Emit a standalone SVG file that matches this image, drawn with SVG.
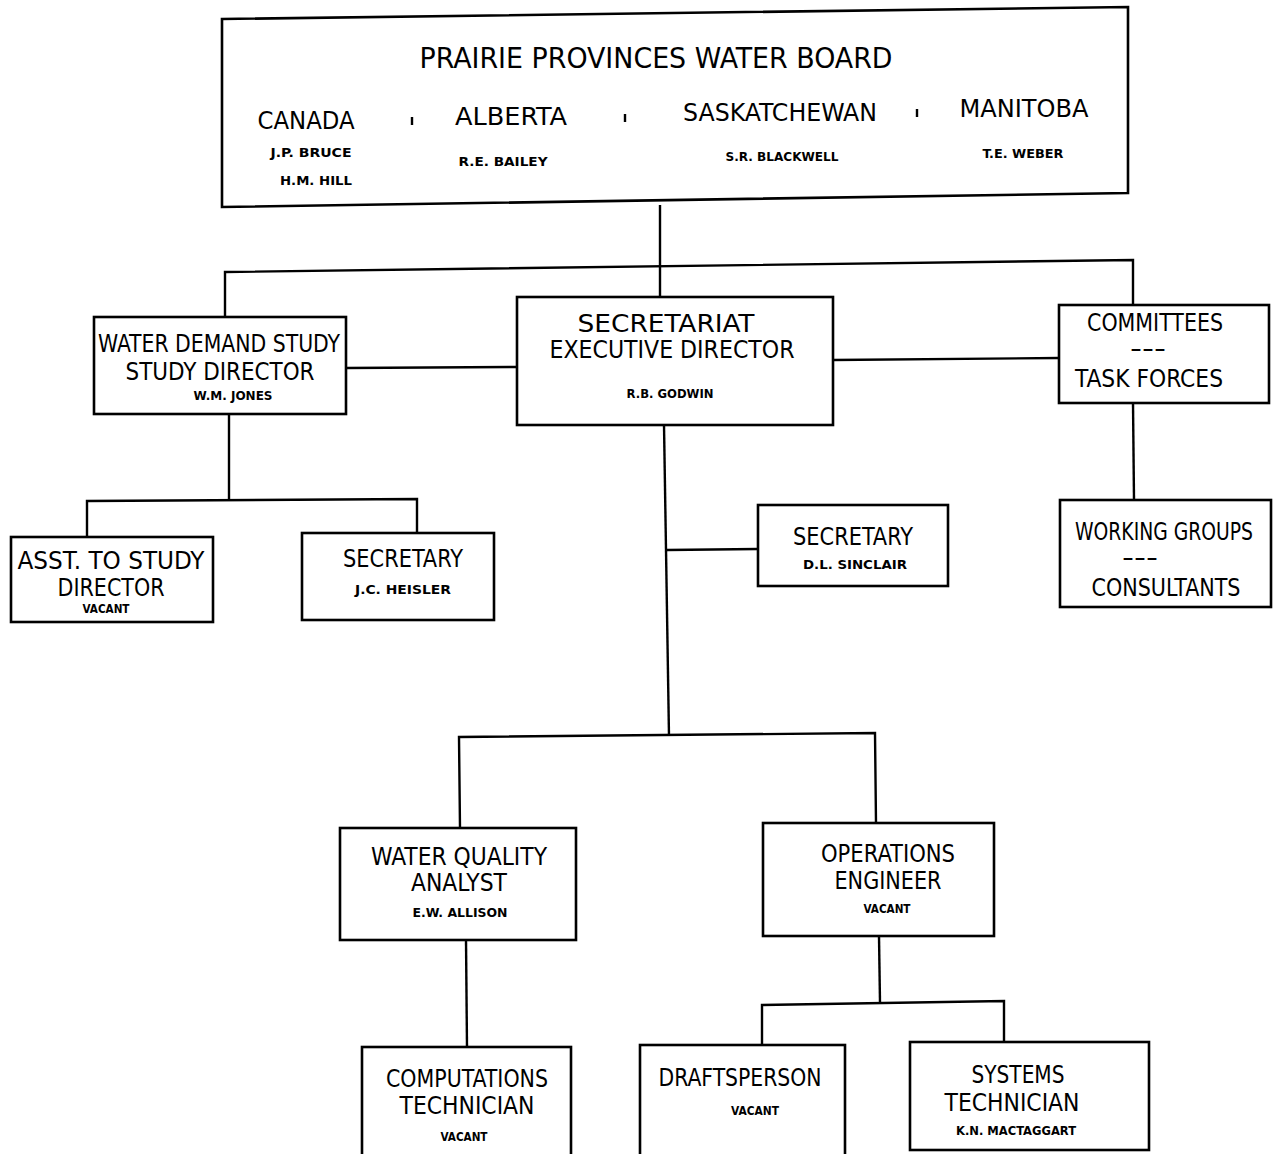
<svg xmlns="http://www.w3.org/2000/svg" width="1277" height="1154" viewBox="0 0 1277 1154">
<style>
.bx{fill:#fff;stroke:#000;stroke-width:2.6}
.ln{fill:none;stroke:#000;stroke-width:2.4}
text{font-family:"DejaVu Sans Condensed","Liberation Sans Narrow","DejaVu Sans",sans-serif;fill:#000;text-anchor:middle}
.t{font-size:24px}
.h{font-size:29px}
.s{font-size:13px;font-weight:bold}
</style>
<rect width="1277" height="1154" fill="#fff"/>
<g id="connectors">
<polyline class="ln" points="660,205 660,297"/>
<polyline class="ln" points="225,318 225,272 1133,260 1133,305"/>
<line class="ln" x1="346" y1="368" x2="517" y2="367"/>
<line class="ln" x1="833" y1="360" x2="1059" y2="358"/>
<line class="ln" x1="1133" y1="403" x2="1134" y2="500"/>
<polyline class="ln" points="229,414 229,500"/>
<polyline class="ln" points="87,537 87,501 417,499 417,533"/>
<polyline class="ln" points="664,425 669,736"/>
<line class="ln" x1="667" y1="550" x2="758" y2="549"/>
<polyline class="ln" points="460,828 459,737 875,733 876,823"/>
<line class="ln" x1="466" y1="940" x2="467" y2="1047"/>
<line class="ln" x1="879" y1="936" x2="880" y2="1003"/>
<polyline class="ln" points="762,1045 762,1005 1004,1001 1004,1042"/>
</g>
<g id="board">
<polygon class="bx" points="222,19 1128,7 1128,193 222,207"/>
<text class="h" x="656" y="68" textLength="473" lengthAdjust="spacingAndGlyphs">PRAIRIE PROVINCES WATER BOARD</text>
<text class="t" x="306" y="129" textLength="97" lengthAdjust="spacingAndGlyphs">CANADA</text>
<text class="t" x="511" y="125" textLength="112" lengthAdjust="spacingAndGlyphs">ALBERTA</text>
<text class="t" x="780" y="121" textLength="194" lengthAdjust="spacingAndGlyphs">SASKATCHEWAN</text>
<text class="t" x="1024" y="117" textLength="129" lengthAdjust="spacingAndGlyphs">MANITOBA</text>
<line class="ln" x1="412" y1="117" x2="412" y2="125"/>
<line class="ln" x1="625" y1="114" x2="625" y2="122"/>
<line class="ln" x1="917" y1="109" x2="917" y2="117"/>
<text class="s" x="311" y="157" textLength="81" lengthAdjust="spacingAndGlyphs">J.P. BRUCE</text>
<text class="s" x="316" y="185" textLength="72" lengthAdjust="spacingAndGlyphs">H.M. HILL</text>
<text class="s" x="503" y="166" textLength="89" lengthAdjust="spacingAndGlyphs">R.E. BAILEY</text>
<text class="s" x="782" y="161" textLength="113" lengthAdjust="spacingAndGlyphs">S.R. BLACKWELL</text>
<text class="s" x="1023" y="158" textLength="81" lengthAdjust="spacingAndGlyphs">T.E. WEBER</text>
</g>
<g id="water-demand">
<rect class="bx" x="94" y="317" width="252" height="97"/>
<text class="t" x="219" y="352" textLength="242" lengthAdjust="spacingAndGlyphs">WATER DEMAND STUDY</text>
<text class="t" x="220" y="380" textLength="189" lengthAdjust="spacingAndGlyphs">STUDY DIRECTOR</text>
<text class="s" x="233" y="400" textLength="79" lengthAdjust="spacingAndGlyphs">W.M. JONES</text>
</g>
<g id="secretariat">
<rect class="bx" x="517" y="297" width="316" height="128"/>
<text class="t" x="666" y="332" textLength="177" lengthAdjust="spacingAndGlyphs">SECRETARIAT</text>
<text class="t" x="672" y="358" textLength="245" lengthAdjust="spacingAndGlyphs">EXECUTIVE DIRECTOR</text>
<text class="s" x="670" y="398" textLength="87" lengthAdjust="spacingAndGlyphs">R.B. GODWIN</text>
</g>
<g id="committees">
<rect class="bx" x="1059" y="305" width="210" height="98"/>
<text class="t" x="1155" y="331" textLength="136" lengthAdjust="spacingAndGlyphs">COMMITTEES</text>
<text class="t" x="1148" y="357" textLength="36" lengthAdjust="spacingAndGlyphs">---</text>
<text class="t" x="1149" y="387" textLength="148" lengthAdjust="spacingAndGlyphs">TASK FORCES</text>
</g>
<g id="working-groups">
<rect class="bx" x="1060" y="500" width="211" height="107"/>
<text class="t" x="1164" y="540" textLength="178" lengthAdjust="spacingAndGlyphs">WORKING GROUPS</text>
<text class="t" x="1140" y="566" textLength="36" lengthAdjust="spacingAndGlyphs">---</text>
<text class="t" x="1166" y="596" textLength="149" lengthAdjust="spacingAndGlyphs">CONSULTANTS</text>
</g>
<g id="asst">
<rect class="bx" x="11" y="537" width="202" height="85"/>
<text class="t" x="111" y="569" textLength="187" lengthAdjust="spacingAndGlyphs">ASST. TO STUDY</text>
<text class="t" x="111" y="596" textLength="107" lengthAdjust="spacingAndGlyphs">DIRECTOR</text>
<text class="s" x="106" y="613" textLength="47" lengthAdjust="spacingAndGlyphs">VACANT</text>
</g>
<g id="secretary-heisler">
<rect class="bx" x="302" y="533" width="192" height="87"/>
<text class="t" x="403" y="567" textLength="120" lengthAdjust="spacingAndGlyphs">SECRETARY</text>
<text class="s" x="403" y="594" textLength="96" lengthAdjust="spacingAndGlyphs">J.C. HEISLER</text>
</g>
<g id="secretary-sinclair">
<rect class="bx" x="758" y="505" width="190" height="81"/>
<text class="t" x="853" y="545" textLength="120" lengthAdjust="spacingAndGlyphs">SECRETARY</text>
<text class="s" x="855" y="569" textLength="104" lengthAdjust="spacingAndGlyphs">D.L. SINCLAIR</text>
</g>
<g id="water-quality">
<rect class="bx" x="340" y="828" width="236" height="112"/>
<text class="t" x="459" y="865" textLength="176" lengthAdjust="spacingAndGlyphs">WATER QUALITY</text>
<text class="t" x="459" y="891" textLength="96" lengthAdjust="spacingAndGlyphs">ANALYST</text>
<text class="s" x="460" y="917" textLength="95" lengthAdjust="spacingAndGlyphs">E.W. ALLISON</text>
</g>
<g id="operations">
<rect class="bx" x="763" y="823" width="231" height="113"/>
<text class="t" x="888" y="862" textLength="134" lengthAdjust="spacingAndGlyphs">OPERATIONS</text>
<text class="t" x="888" y="889" textLength="107" lengthAdjust="spacingAndGlyphs">ENGINEER</text>
<text class="s" x="887" y="913" textLength="47" lengthAdjust="spacingAndGlyphs">VACANT</text>
</g>
<g id="computations">
<rect class="bx" x="362" y="1047" width="209" height="112"/>
<text class="t" x="467" y="1087" textLength="162" lengthAdjust="spacingAndGlyphs">COMPUTATIONS</text>
<text class="t" x="467" y="1114" textLength="135" lengthAdjust="spacingAndGlyphs">TECHNICIAN</text>
<text class="s" x="464" y="1141" textLength="47" lengthAdjust="spacingAndGlyphs">VACANT</text>
</g>
<g id="draftsperson">
<rect class="bx" x="640" y="1045" width="205" height="114"/>
<text class="t" x="740" y="1086" textLength="163" lengthAdjust="spacingAndGlyphs">DRAFTSPERSON</text>
<text class="s" x="755" y="1115" textLength="48" lengthAdjust="spacingAndGlyphs">VACANT</text>
</g>
<g id="systems">
<rect class="bx" x="910" y="1042" width="239" height="108"/>
<text class="t" x="1018" y="1083" textLength="93" lengthAdjust="spacingAndGlyphs">SYSTEMS</text>
<text class="t" x="1012" y="1111" textLength="135" lengthAdjust="spacingAndGlyphs">TECHNICIAN</text>
<text class="s" x="1016" y="1135" textLength="120" lengthAdjust="spacingAndGlyphs">K.N. MACTAGGART</text>
</g>
</svg>
